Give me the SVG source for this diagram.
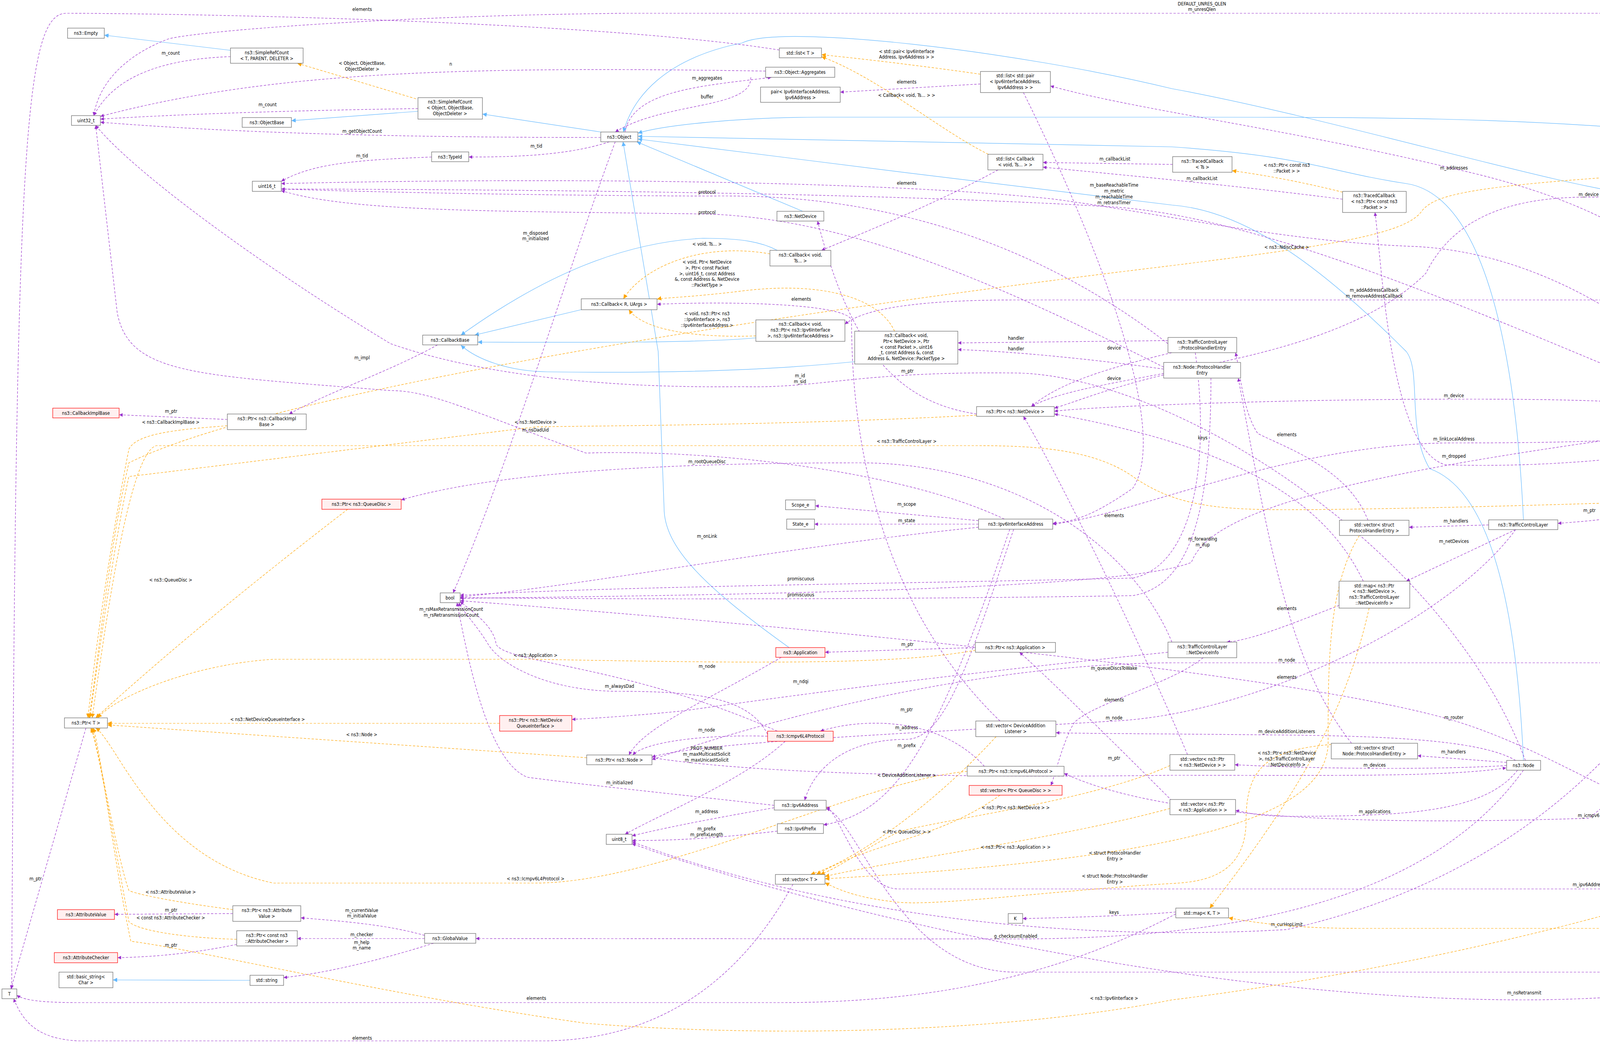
<svg xmlns="http://www.w3.org/2000/svg" width="5873" height="2673" viewBox="0 0 5873 2673">
<style>
text{font-family:"DejaVu Sans Condensed","DejaVu Sans","Liberation Sans",sans-serif;font-size:12px;fill:#000;text-anchor:middle}
.n rect{fill:#fff;stroke:#666;stroke-width:1.2}
.g rect{fill:#999;stroke:#666;stroke-width:1.2}
.r rect{fill:#fff0f0;stroke:#f00;stroke-width:1.2}
.u{fill:none;stroke:#9a32cd;stroke-width:1.2;stroke-dasharray:6,4;marker-end:url(#mu)}
.i{fill:none;stroke:#63b8ff;stroke-width:1.2;marker-end:url(#mi)}
.o{fill:none;stroke:#ffa500;stroke-width:1.2;stroke-dasharray:6,4;marker-end:url(#mo)}
</style>
<defs>
<marker id="mu" viewBox="0 0 10 10" refX="10" refY="5" markerWidth="9" markerHeight="9" orient="auto" markerUnits="userSpaceOnUse"><path d="M0,0L10,5L0,10z" fill="#9a32cd"/></marker>
<marker id="mi" viewBox="0 0 10 10" refX="10" refY="5" markerWidth="11" markerHeight="11" orient="auto" markerUnits="userSpaceOnUse"><path d="M0,0L10,5L0,10z" fill="#63b8ff"/></marker>
<marker id="mo" viewBox="0 0 10 10" refX="10" refY="5" markerWidth="11" markerHeight="11" orient="auto" markerUnits="userSpaceOnUse"><path d="M0,0L10,5L0,10z" fill="#ffa500"/></marker>
</defs>
<rect width="5873" height="2673" fill="#fff"/>
<g id="connectors">
<path class="i" d="M616,132L267,90"/>
<path class="i" d="M1070,285L746,309"/>
<path class="i" d="M1538,338L1235,292"/>
<path class="i" d="M2055,541L1630,363"/>
<path class="i" d="M2020,1658C1800,1500 1700,1400 1700,1300L1685,900L1595,363"/>
<path class="i" d="M5123,722C4900,520 4600,400 4300,340C3900,300 3500,300 3000,300L2100,300C1900,300 1700,320 1633,341"/>
<path class="i" d="M4530,1065C4500,800 4400,520 4200,500C4000,480 3400,300 3000,227C2600,130 2000,60 1900,110C1700,150 1620,250 1596,338"/>
<path class="i" d="M3900,1331C3880,900 3800,500 3600,470C3400,440 3350,400 3000,376L1633,349"/>
<path class="i" d="M3900,1947C3880,1500 3800,1250 3660,1200C3600,1100 3640,950 3600,900C3400,700 3200,540 3000,525C2800,500 1800,380 1633,356"/>
<path class="i" d="M1990,641C1950,620 1900,610 1800,610C1600,620 1400,700 1180,858"/>
<path class="i" d="M1500,790L1215,858"/>
<path class="i" d="M1935,865C1800,878 1500,877 1223,876"/>
<path class="i" d="M2188,926C1900,955 1600,955 1400,952C1300,950 1220,920 1180,884"/>
<path class="i" d="M640,2510L289,2509"/>

<path class="u" d="M590,145C450,150 300,180 240,296"/><text x="437" y="140">m_count</text>
<path class="u" d="M1070,278C800,282 500,290 257,305"/><text x="685" y="272">m_count</text>
<path class="u" d="M1538,352C1000,352 600,340 257,313"/><text x="927" y="340">m_getObjectCount</text>
<path class="u" d="M1560,363C1450,400 1300,402 1200,402"/><text x="1373" y="378">m_tid</text>
<path class="u" d="M1105,402C900,410 800,420 720,464"/><text x="927" y="403">m_tid</text>
<path class="u" d="M1960,182C1200,170 700,180 257,298"/><text x="1154" y="168">n</text>
<path class="u" d="M1600,338C1620,230 1800,220 1975,198"/><text x="1810" y="204">m_aggregates</text>
<path class="u" d="M1922,198C1925,280 1700,260 1575,338"/><text x="1810" y="252">buffer</text>
<path class="u" d="M1575,363C1450,700 1300,1200 1160,1518"/><text x="1371" y="601">m_disposed</text><text x="1371" y="615">m_initialized</text>
<path class="u" d="M1995,128C1500,50 400,34 170,34C60,34 40,400 30,2532"/><text x="927" y="28">elements</text>
<path class="u" d="M2510,215L2151,236"/><text x="2321" y="214">elements</text>
<path class="u" d="M3002,421L2670,416"/><text x="2854" y="411">m_callbackList</text>
<path class="u" d="M3437,510C3200,480 3000,460 2670,428"/><text x="3077" y="461">m_callbackList</text>
<path class="u" d="M2555,435C2400,520 2200,600 2103,641"/>
<path class="u" d="M4456,1072C4300,900 4000,650 3622,631C3300,620 3000,551 2700,510C2300,467 1500,452 720,470"/><text x="2321" y="473">elements</text>
<path class="u" d="M4480,1065C4450,800 4300,560 3722,432C3300,330 2900,280 2689,220"/><text x="3722" y="434">m_addresses</text>
<path class="u" d="M4456,1068C4300,1020 3900,1022 3722,1022C3300,1022 2800,1040 2699,1053"/><text x="3722" y="1017">m_device</text>
<path class="u" d="M4470,1091C4300,1130 4000,1134 3722,1134C3300,1134 2900,1320 2695,1342"/><text x="3722" y="1128">m_linkLocalAddress</text>
<path class="u" d="M4480,1091C4400,1160 4000,1200 3700,1190C3560,1150 3540,700 3520,544"/><text x="3722" y="1172">m_dropped</text>
<path class="u" d="M4520,1091C4500,1180 4420,1240 4347,1265"/><text x="4392" y="1233">m_tc</text>
<path class="u" d="M4500,1065C4700,700 4900,415 5100,415C5250,415 5340,420 5380,431"/><text x="4992" y="437">m_ndCache</text>
<path class="u" d="M4470,1065C4450,900 4300,768 4200,768L2600,768C2300,768 2200,800 2163,830"/><text x="3518" y="747">m_addAddressCallback</text><text x="3518" y="762">m_removeAddressCallback</text>
<path class="u" d="M4456,1076C4000,900 3300,560 2852,530C2200,490 1200,485 720,484"/><text x="2852" y="478">m_baseReachableTime</text><text x="2852" y="493">m_metric</text><text x="2852" y="508">m_reachableTime</text><text x="2852" y="523">m_retransTimer</text>
<path class="u" d="M4456,1082C3500,1200 3100,1300 3050,1440C2900,1500 2200,1520 1178,1532"/><text x="3079" y="1384">m_forwarding</text><text x="3079" y="1399">m_ifup</text>
<path class="u" d="M4530,1091C4500,1500 4400,1697 4200,1697L3000,1697C2400,1700 1800,1900 1669,1945"/><text x="3294" y="1694">m_node</text>
<path class="u" d="M4510,1091C4480,1500 4350,1880 4067,2095C3600,2110 3000,2110 2724,1980"/><text x="4067" y="2092">m_icmpv6</text>
<path class="u" d="M5386,2292C5200,2276 4900,2276 4600,2276L2300,2276C2200,2276 2150,2080 2115,2066"/><text x="4067" y="2269">m_ipv6Address</text>
<path class="u" d="M4520,1091C4450,1600 4100,2200 3294,2380C2600,2420 2000,2300 1618,2155"/><text x="3294" y="2371">m_curHopLimit</text>
<path class="u" d="M5420,2313C5000,2450 4400,2560 3902,2560C3000,2560 2000,2300 1618,2160"/><text x="3902" y="2546">m_nsRetransmit</text>
<path class="u" d="M5440,2287C5300,2110 5150,2107 4900,2107L4400,2107C4200,2100 4000,1930 3722,1845C3300,1720 2000,1600 1178,1538"/><text x="3722" y="1841">m_router</text>
<path class="u" d="M5720,2398C5600,2480 5400,2489 5200,2489L2600,2489C2300,2489 2200,2100 2115,2070"/><text x="4247" y="2482">keys</text>
<path class="u" d="M5386,2302L5238,2326"/><text x="5305" y="2304">m_state</text>
<path class="u" d="M5720,2359C5650,2340 5580,2325 5520,2313"/><text x="5634" y="2327">elements</text>
<path class="u" d="M5170,747L5760,2359"/><text x="5473" y="1307">m_ndCache</text>
<path class="u" d="M5470,2287C5400,1600 5200,1000 5150,747"/><text x="5305" y="1324">m_ndCache</text>
<path class="u" d="M5150,722C5100,300 5000,34 4830,34L1600,34C1000,40 500,80 430,100C300,150 250,230 240,296"/><text x="3077" y="14">DEFAULT_UNRES_QLEN</text><text x="3077" y="28">m_unresQlen</text>
<path class="u" d="M5110,722C4800,550 4300,500 4040,505C3800,510 3700,600 3650,700C3400,950 2800,950 2640,1041"/><text x="4067" y="502">m_device</text>
<path class="u" d="M5100,747C5060,1600 5040,2075 4880,2071"/><text x="4995" y="2033">m_interface</text>
<path class="u" d="M5450,456L5172,722"/><text x="5305" y="557">m_ptr</text>
<path class="u" d="M4810,2045L4532,1091"/><text x="4663" y="1474">m_ptr</text>
<path class="u" d="M4210,1304C4150,1330 4050,1335 3988,1340"/><text x="4069" y="1311">m_ptr</text>
<path class="u" d="M3811,1344L3607,1350"/><text x="3727" y="1338">m_handlers</text>
<path class="u" d="M3880,1356L3600,1488"/><text x="3722" y="1390">m_netDevices</text>
<path class="u" d="M3502,1332C3450,1200 3300,1150 3220,1110C3180,1050 3175,950 3163,903"/><text x="3294" y="1117">elements</text>
<path class="u" d="M3490,1488C3400,1300 3200,1150 2699,1060"/><text x="3079" y="1125">keys</text>
<path class="u" d="M3428,1550C3300,1600 3200,1640 3140,1644"/><text x="3294" y="1562">elements</text>
<path class="u" d="M3000,1644C2900,1400 2600,1185 2200,1185C1800,1185 1300,1200 1027,1280"/><text x="1810" y="1186">m_rootQueueDisc</text>
<path class="u" d="M2990,1670C2500,1720 2100,1770 1750,1820C1600,1835 1500,1840 1464,1842"/><text x="2050" y="1749">m_ndqi</text>
<path class="u" d="M3080,1684C3000,1750 2800,1800 2750,1850C2720,1900 2700,1990 2690,2011"/><text x="2852" y="1715">m_queueDiscsToWake</text>
<path class="u" d="M3857,1952L3629,1935"/><text x="3721" y="1929">m_handlers</text>
<path class="u" d="M3857,1960C3700,1970 3400,1970 3161,1958"/><text x="3519" y="1963">m_devices</text>
<path class="u" d="M1669,1940C2000,1990 2600,1990 3000,1985C3400,1985 3700,1990 3856,1966"/><text x="2852" y="1945">m_ptr</text>
<path class="u" d="M3885,1972C3800,2080 3600,2090 3300,2090C3220,2090 3190,2080 3163,2075"/><text x="3519" y="2082">m_applications</text>
<path class="u" d="M3880,1947C3800,1900 3600,1885 3294,1882C2900,1878 2760,1878 2703,1876"/><text x="3294" y="1877">m_deviceAdditionListeners</text>
<path class="u" d="M3880,1356C3700,1600 3200,1830 2852,1846C2300,1880 1800,1900 1669,1938"/><text x="2852" y="1842">m_node</text>
<path class="u" d="M3905,1947C3700,1400 3000,960 2600,955C2200,950 2100,995 1900,990C1500,995 1200,950 1000,880C700,700 350,450 245,321"/><text x="2048" y="966">m_id</text><text x="2048" y="981">m_sid</text>
<path class="u" d="M2990,880C2500,500 2000,500 1810,502C1300,500 900,490 720,484"/><text x="1810" y="496">protocol</text>
<path class="u" d="M2979,940C2600,750 2200,560 1810,548C1300,540 900,545 720,488"/><text x="1810" y="548">protocol</text>
<path class="u" d="M2990,872L2452,878"/><text x="2601" y="870">handler</text>
<path class="u" d="M2979,945C2800,920 2600,900 2452,895"/><text x="2601" y="897">handler</text>
<path class="u" d="M3000,903C2800,950 2700,990 2640,1041"/><text x="2852" y="895">device</text>
<path class="u" d="M2979,960C2850,990 2750,1030 2699,1045"/><text x="2852" y="973">device</text>
<path class="u" d="M3060,903C3100,1200 3050,1450 2900,1480C2300,1495 1600,1500 1178,1524"/><text x="2050" y="1486">promiscuous</text>
<path class="u" d="M3100,968C3100,1300 3050,1500 2900,1525C2300,1535 1600,1535 1178,1530"/><text x="2050" y="1527">promiscuous</text>
<path class="u" d="M2500,1060C2300,1030 2180,900 2093,566"/><text x="2323" y="954">m_ptr</text>
<path class="u" d="M2505,1333L2087,1295"/><text x="2321" y="1295">m_scope</text>
<path class="u" d="M2505,1342L2085,1342"/><text x="2321" y="1337">m_state</text>
<path class="u" d="M2505,1350C2000,1400 1500,1500 1178,1528"/><text x="1810" y="1377">m_onLink</text>
<path class="u" d="M2571,1329C2300,1200 1800,1150 1500,1160C1200,1050 1100,1000 1000,1000C500,960 330,960 300,800L245,321"/><text x="1371" y="1105">m_nsDadUid</text>
<path class="u" d="M2595,1355C2480,1700 2420,1890 2321,1893C2150,1893 2080,1980 2060,2049"/><text x="2321" y="1867">m_address</text>
<path class="u" d="M2585,1355C2400,1900 2300,2080 2108,2112"/><text x="2321" y="1913">m_prefix</text>
<path class="u" d="M1982,2062C1700,2030 1500,2010 1350,1990C1250,1950 1200,1700 1170,1543"/><text x="1586" y="2008">m_initialized</text>
<path class="u" d="M1965,1880C1920,1790 1800,1770 1586,1770C1400,1770 1280,1700 1250,1650C1220,1600 1180,1560 1175,1543"/><text x="1586" y="1761">m_alwaysDad</text>
<path class="u" d="M1990,1872C1600,1700 1300,1700 1270,1650C1265,1600 1200,1560 1178,1540"/><text x="1155" y="1564">m_rsMaxRetransmissionCount</text><text x="1155" y="1579">m_rsRetransmissionCount</text>
<path class="u" d="M1965,1885C1800,1880 1650,1900 1620,1933"/><text x="1809" y="1873">m_node</text>
<path class="u" d="M2000,1683C1800,1800 1650,1860 1610,1933"/><text x="1810" y="1710">m_node</text>
<path class="u" d="M2010,1898C1900,2000 1700,2080 1600,2136"/><text x="1809" y="1920">PROT_NUMBER</text><text x="1809" y="1935">m_maxMulticastSolicit</text><text x="1809" y="1950">m_maxUnicastSolicit</text>
<path class="u" d="M2520,1962C2400,1830 2200,1840 2100,1872"/><text x="2321" y="1821">m_ptr</text>
<path class="u" d="M1982,2068C1800,2100 1700,2120 1618,2140"/><text x="1809" y="2082">m_address</text>
<path class="u" d="M1990,2128C1800,2150 1700,2152 1618,2152"/><text x="1809" y="2126">m_prefix</text><text x="1809" y="2141">m_prefixLength</text>
<path class="u" d="M2497,1658L2112,1670"/><text x="2323" y="1654">m_ptr</text>
<path class="u" d="M3000,2050C2900,1950 2700,1750 2610,1670"/><text x="2852" y="1796">elements</text>
<path class="u" d="M3040,1932C2900,1600 2700,1200 2620,1066"/><text x="3294" y="1738">elements</text>
<path class="u" d="M3460,1903C3300,1700 3250,1400 3170,968"/>
<path class="u" d="M2620,237C2800,600 3000,1100 2900,1250C2800,1320 2750,1335 2695,1340"/><text x="2852" y="1324">elements</text>
<path class="u" d="M2560,1846C2200,1500 2180,1000 2180,820C2170,780 1900,770 1682,779"/><text x="2051" y="770">elements</text>
<path class="u" d="M2030,2264C1900,2500 1700,2660 1400,2665L200,2665C100,2660 60,2620 35,2557"/><text x="927" y="2662">elements</text>
<path class="u" d="M3010,2340C2800,2450 2500,2567 2000,2567L200,2567C100,2567 60,2560 43,2548"/><text x="1373" y="2560">elements</text>
<path class="u" d="M3010,2335C2900,2345 2700,2350 2618,2352"/><text x="2852" y="2340">keys</text>
<path class="u" d="M220,1864L28,2532"/><text x="91" y="2254">m_ptr</text>
<path class="u" d="M1087,2395C1000,2370 900,2360 770,2350"/><text x="926" y="2335">m_currentValue</text><text x="926" y="2349">m_initialValue</text>
<path class="u" d="M1087,2403L761,2403"/><text x="926" y="2397">m_checker</text>
<path class="u" d="M1110,2415C1000,2450 850,2490 726,2503"/><text x="926" y="2417">m_help</text><text x="926" y="2431">m_name</text>
<path class="u" d="M3900,1972C3700,2250 3300,2404 2600,2404L1218,2403"/><text x="2600" y="2401">g_checksumEnabled</text>
<path class="u" d="M596,2339L293,2341"/><text x="438" y="2334">m_ptr</text>
<path class="u" d="M606,2418C500,2440 400,2450 301,2452"/><text x="438" y="2424">m_ptr</text>
<path class="u" d="M1120,883C1000,950 850,1000 740,1060"/><text x="927" y="920">m_impl</text>
<path class="u" d="M582,1074L305,1062"/><text x="438" y="1057">m_ptr</text>

<path class="o" d="M1065,253L761,162"/><text x="927" y="166">&lt; Object, ObjectBase,</text><text x="927" y="181">ObjectDeleter &gt;</text>
<path class="o" d="M2510,190C2300,160 2150,145 2103,140"/><text x="2321" y="136">&lt; std::pair&lt; Ipv6Interface</text><text x="2321" y="150">Address, Ipv6Address &gt; &gt;</text>
<path class="o" d="M2530,395C2400,330 2250,200 2103,145"/><text x="2321" y="248">&lt; Callback&lt; void, Ts... &gt; &gt;</text>
<path class="o" d="M3437,492C3350,470 3250,450 3154,437"/><text x="3294" y="427">&lt; ns3::Ptr&lt; const ns3</text><text x="3294" y="442">::Packet &gt; &gt;</text>
<path class="o" d="M1971,650C1800,620 1650,680 1596,765"/><text x="1810" y="629">&lt; void, Ts... &gt;</text>
<path class="o" d="M2290,848C2250,760 2100,720 1900,745C1760,762 1700,762 1682,766"/><text x="1810" y="675">&lt; void, Ptr&lt; NetDevice</text><text x="1810" y="690">&gt;, Ptr&lt; const Packet</text><text x="1810" y="705">&gt;, uint16_t, const Address</text><text x="1810" y="719">&amp;, const Address &amp;, NetDevice</text><text x="1810" y="734">::PacketType &gt;</text>
<path class="o" d="M1935,860C1800,865 1650,850 1610,793"/><text x="1810" y="807">&lt; void, ns3::Ptr&lt; ns3</text><text x="1810" y="822">::Ipv6Interface &gt;, ns3</text><text x="1810" y="837">::Ipv6InterfaceAddress &gt;</text>
<path class="o" d="M582,1090C450,1100 350,1110 330,1150C280,1400 240,1700 225,1838"/><text x="437" y="1085">&lt; ns3::CallbackImplBase &gt;</text>
<path class="o" d="M890,1304C700,1450 450,1650 245,1838"/><text x="437" y="1489">&lt; ns3::QueueDisc &gt;</text>
<path class="o" d="M2500,1063C2000,1090 1500,1090 1371,1093C900,1150 500,1200 330,1220C290,1400 250,1700 230,1838"/><text x="1371" y="1085">&lt; ns3::NetDevice &gt;</text>
<path class="o" d="M4143,1287C3900,1295 3500,1305 3287,1305C3100,1305 3000,1290 2900,1220C2800,1150 2650,1141 2500,1141L400,1141C330,1160 270,1600 236,1838"/><text x="2321" y="1134">&lt; ns3::TrafficControlLayer &gt;</text>
<path class="o" d="M2497,1665C2300,1700 2000,1700 1371,1688L700,1688C500,1700 300,1780 250,1838"/><text x="1371" y="1682">&lt; ns3::Application &gt;</text>
<path class="o" d="M1279,1852L275,1852"/><text x="685" y="1846">&lt; ns3::NetDeviceQueueInterface &gt;</text>
<path class="o" d="M1502,1940L275,1856"/><text x="926" y="1885">&lt; ns3::Node &gt;</text>
<path class="o" d="M2476,1975C2200,2000 1700,2260 1371,2261L700,2261C400,2200 300,1900 245,1864"/><text x="1371" y="2254">&lt; ns3::Icmpv6L4Protocol &gt;</text>
<path class="o" d="M596,2329C450,2310 350,2290 330,2280C300,2200 250,1900 235,1864"/><text x="437" y="2288">&lt; ns3::AttributeValue &gt;</text>
<path class="o" d="M606,2405C450,2400 350,2380 330,2360C300,2200 250,1900 232,1864"/><text x="437" y="2354">&lt; const ns3::AttributeChecker &gt;</text>
<path class="o" d="M4770,2070C4500,2300 3500,2500 3000,2560C2600,2640 2000,2660 1500,2620C1000,2550 500,2430 335,2410C290,2200 255,1900 238,1864"/><text x="2852" y="2560">&lt; ns3::Ipv6Interface &gt;</text>
<path class="o" d="M5420,431C5300,400 5000,395 4500,430C3800,470 3680,490 3640,540C3600,600 3400,630 3000,680C2000,800 700,1000 330,1185C280,1400 250,1700 228,1838"/><text x="3294" y="637">&lt; ns3::NdiscCache &gt;</text>
<path class="o" d="M2550,1886C2400,2050 2200,2200 2075,2239"/><text x="2321" y="1989">&lt; DeviceAdditionListener &gt;</text>
<path class="o" d="M2560,2036C2400,2150 2250,2150 2090,2239"/><text x="2321" y="2134">&lt; Ptr&lt; QueueDisc &gt; &gt;</text>
<path class="o" d="M2995,1960C2800,2050 2400,2100 2300,2130C2200,2180 2150,2220 2100,2239"/><text x="2600" y="2072">&lt; ns3::Ptr&lt; ns3::NetDevice &gt; &gt;</text>
<path class="o" d="M2995,2070C2700,2150 2300,2200 2112,2244"/><text x="2600" y="2173">&lt; ns3::Ptr&lt; ns3::Application &gt; &gt;</text>
<path class="o" d="M3480,1371C3400,1500 3400,1700 3400,1900C3400,2100 3000,2200 2112,2250"/><text x="2854" y="2188">&lt; struct ProtocolHandler</text><text x="2854" y="2203">Entry &gt;</text>
<path class="o" d="M3408,1906C3250,1920 3190,1960 3190,2100C3190,2230 3100,2258 3000,2262C2700,2280 2400,2320 2300,2310C2200,2300 2150,2280 2112,2260"/><text x="2854" y="2247">&lt; struct Node::ProtocolHandler</text><text x="2854" y="2262">Entry &gt;</text>
<path class="o" d="M3505,1557C3450,1800 3350,2000 3097,2325"/><text x="3294" y="1932">&lt; ns3::Ptr&lt; ns3::NetDevice</text><text x="3294" y="1947">&gt;, ns3::TrafficControlLayer</text><text x="3294" y="1962">::NetDeviceInfo &gt;</text>
<path class="o" d="M5689,2398C5550,2430 5300,2427 5000,2427C4800,2427 4600,2377 4400,2377L3480,2377C3300,2377 3200,2360 3145,2350"/><text x="4527" y="2356">&lt; Ipv6Address, NdiscCache</text><text x="4527" y="2371">::Entry * &gt;</text>
</g>

<g id="Empty" class="n"><rect x="173" y="72" width="94" height="26"/><text x="220" y="89">ns3::Empty</text></g>
<g id="SRC_T" class="n"><rect x="590" y="123" width="186" height="39"/><text x="683" y="139">ns3::SimpleRefCount</text><text x="683" y="154">&lt; T, PARENT, DELETER &gt;</text></g>
<g id="uint32" class="n"><rect x="183" y="296" width="74" height="25"/><text x="220" y="313">uint32_t</text></g>
<g id="ObjectBase" class="n"><rect x="620" y="301" width="126" height="25"/><text x="683" y="318">ns3::ObjectBase</text></g>
<g id="SRC_O" class="n"><rect x="1070" y="250" width="165" height="55"/><text x="1152" y="265">ns3::SimpleRefCount</text><text x="1152" y="280">&lt; Object, ObjectBase,</text><text x="1152" y="295">ObjectDeleter &gt;</text></g>
<g id="TypeId" class="n"><rect x="1105" y="389" width="95" height="25"/><text x="1152" y="406">ns3::TypeId</text></g>
<g id="uint16" class="n"><rect x="646" y="464" width="74" height="26"/><text x="683" y="481">uint16_t</text></g>
<g id="CallbackBase" class="n"><rect x="1082" y="858" width="141" height="25"/><text x="1152" y="875">ns3::CallbackBase</text></g>
<g id="listT" class="n"><rect x="1995" y="123" width="108" height="25"/><text x="2049" y="140">std::list&lt; T &gt;</text></g>
<g id="Aggregates" class="n"><rect x="1960" y="172" width="177" height="26"/><text x="2048" y="189">ns3::Object::Aggregates</text></g>
<g id="pair" class="n"><rect x="1947" y="223" width="204" height="39"/><text x="2049" y="239">pair&lt; Ipv6InterfaceAddress,</text><text x="2049" y="254">Ipv6Address &gt;</text></g>
<g id="listPair" class="n"><rect x="2510" y="183" width="179" height="54"/><text x="2599" y="198">std::list&lt; std::pair</text><text x="2599" y="213">&lt; Ipv6InterfaceAddress,</text><text x="2599" y="228">Ipv6Address &gt; &gt;</text></g>
<g id="Object" class="n"><rect x="1538" y="338" width="95" height="25"/><text x="1585" y="355">ns3::Object</text></g>
<g id="listCb" class="n"><rect x="2529" y="395" width="141" height="40"/><text x="2599" y="411">std::list&lt; Callback</text><text x="2599" y="426">&lt; void, Ts... &gt; &gt;</text></g>
<g id="NetDevice" class="n"><rect x="1989" y="541" width="120" height="25"/><text x="2049" y="558">ns3::NetDevice</text></g>
<g id="CbVoid" class="n"><rect x="1971" y="641" width="156" height="40"/><text x="2049" y="657">ns3::Callback&lt; void,</text><text x="2049" y="672">Ts... &gt;</text></g>
<g id="CbRU" class="n"><rect x="1488" y="765" width="194" height="28"/><text x="1585" y="783">ns3::Callback&lt; R, UArgs &gt;</text></g>
<g id="CbIface" class="n"><rect x="1935" y="819" width="228" height="55"/><text x="2049" y="834">ns3::Callback&lt; void,</text><text x="2049" y="849">ns3::Ptr&lt; ns3::Ipv6Interface</text><text x="2049" y="864">&gt;, ns3::Ipv6InterfaceAddress &gt;</text></g>
<g id="CbNd" class="n"><rect x="2188" y="848" width="264" height="84"/><text x="2320" y="863">ns3::Callback&lt; void,</text><text x="2320" y="878">Ptr&lt; NetDevice &gt;, Ptr</text><text x="2320" y="893">&lt; const Packet &gt;, uint16</text><text x="2320" y="907">_t, const Address &amp;, const</text><text x="2320" y="922">Address &amp;, NetDevice::PacketType &gt;</text></g>
<g id="TcTs" class="n"><rect x="3002" y="401" width="152" height="40"/><text x="3078" y="417">ns3::TracedCallback</text><text x="3078" y="432">&lt; Ts &gt;</text></g>
<g id="TcPkt" class="n"><rect x="3437" y="490" width="163" height="54"/><text x="3518" y="505">ns3::TracedCallback</text><text x="3518" y="520">&lt; ns3::Ptr&lt; const ns3</text><text x="3518" y="535">::Packet &gt; &gt;</text></g>
<g id="TclPhe" class="n"><rect x="2990" y="864" width="176" height="39"/><text x="3078" y="880">ns3::TrafficControlLayer</text><text x="3078" y="895">::ProtocolHandlerEntry</text></g>
<g id="NodePhe" class="n"><rect x="2979" y="928" width="197" height="40"/><text x="3077" y="944">ns3::Node::ProtocolHandler</text><text x="3077" y="959">Entry</text></g>
<g id="PtrNdisc" class="n"><rect x="5368" y="431" width="207" height="25"/><text x="5471" y="448">ns3::Ptr&lt; ns3::NdiscCache &gt;</text></g>
<g id="NdiscCache" class="n"><rect x="5083" y="722" width="129" height="25"/><text x="5147" y="739">ns3::NdiscCache</text></g>
<g id="Ipv6Interface" class="g"><rect x="4456" y="1065" width="138" height="26"/><text x="4525" y="1082">ns3::Ipv6Interface</text></g>
<g id="CallbackImplBase" class="r"><rect x="135" y="1045" width="170" height="25"/><text x="220" y="1062">ns3::CallbackImplBase</text></g>
<g id="PtrCIB" class="n"><rect x="582" y="1060" width="202" height="40"/><text x="683" y="1076">ns3::Ptr&lt; ns3::CallbackImpl</text><text x="683" y="1091">Base &gt;</text></g>
<g id="PtrQD" class="r"><rect x="824" y="1278" width="203" height="26"/><text x="925" y="1295">ns3::Ptr&lt; ns3::QueueDisc &gt;</text></g>
<g id="bool" class="n"><rect x="1127" y="1518" width="51" height="25"/><text x="1152" y="1535">bool</text></g>
<g id="PtrND" class="n"><rect x="2500" y="1041" width="199" height="25"/><text x="2599" y="1058">ns3::Ptr&lt; ns3::NetDevice &gt;</text></g>
<g id="Scope" class="n"><rect x="2011" y="1280" width="76" height="25"/><text x="2049" y="1297">Scope_e</text></g>
<g id="State" class="n"><rect x="2014" y="1329" width="71" height="26"/><text x="2049" y="1346">State_e</text></g>
<g id="IfAddr" class="n"><rect x="2505" y="1329" width="190" height="26"/><text x="2600" y="1346">ns3::Ipv6InterfaceAddress</text></g>
<g id="App" class="r"><rect x="1986" y="1658" width="126" height="25"/><text x="2049" y="1675">ns3::Application</text></g>
<g id="PtrApp" class="n"><rect x="2497" y="1645" width="205" height="25"/><text x="2599" y="1662">ns3::Ptr&lt; ns3::Application &gt;</text></g>
<g id="NDInfo" class="n"><rect x="2990" y="1644" width="176" height="40"/><text x="3078" y="1660">ns3::TrafficControlLayer</text><text x="3078" y="1675">::NetDeviceInfo</text></g>
<g id="PtrTCL" class="n"><rect x="4143" y="1263" width="204" height="41"/><text x="4245" y="1279">ns3::Ptr&lt; ns3::TrafficControl</text><text x="4245" y="1294">Layer &gt;</text></g>
<g id="TCL" class="n"><rect x="3811" y="1331" width="177" height="25"/><text x="3899" y="1348">ns3::TrafficControlLayer</text></g>
<g id="vecPHE" class="n"><rect x="3429" y="1332" width="178" height="39"/><text x="3518" y="1348">std::vector&lt; struct</text><text x="3518" y="1363">ProtocolHandlerEntry &gt;</text></g>
<g id="mapND" class="n"><rect x="3428" y="1488" width="181" height="69"/><text x="3518" y="1504">std::map&lt; ns3::Ptr</text><text x="3518" y="1518">&lt; ns3::NetDevice &gt;,</text><text x="3518" y="1533">ns3::TrafficControlLayer</text><text x="3518" y="1548">::NetDeviceInfo &gt;</text></g>
<g id="PtrT" class="n"><rect x="165" y="1838" width="110" height="26"/><text x="220" y="1855">ns3::Ptr&lt; T &gt;</text></g>
<g id="PtrNDQI" class="r"><rect x="1279" y="1832" width="185" height="40"/><text x="1371" y="1848">ns3::Ptr&lt; ns3::NetDevice</text><text x="1371" y="1863">QueueInterface &gt;</text></g>
<g id="AttrVal" class="r"><rect x="147" y="2329" width="146" height="25"/><text x="220" y="2346">ns3::AttributeValue</text></g>
<g id="PtrAV" class="n"><rect x="596" y="2319" width="174" height="40"/><text x="683" y="2335">ns3::Ptr&lt; ns3::Attribute</text><text x="683" y="2350">Value &gt;</text></g>
<g id="PtrAC" class="n"><rect x="606" y="2383" width="155" height="39"/><text x="683" y="2399">ns3::Ptr&lt; const ns3</text><text x="683" y="2414">::AttributeChecker &gt;</text></g>
<g id="GlobalValue" class="n"><rect x="1087" y="2390" width="131" height="25"/><text x="1152" y="2407">ns3::GlobalValue</text></g>
<g id="AttrChk" class="r"><rect x="139" y="2439" width="162" height="26"/><text x="220" y="2456">ns3::AttributeChecker</text></g>
<g id="basicString" class="n"><rect x="151" y="2489" width="138" height="40"/><text x="220" y="2505">std::basic_string&lt;</text><text x="220" y="2520">Char &gt;</text></g>
<g id="string" class="n"><rect x="640" y="2497" width="86" height="26"/><text x="683" y="2514">std::string</text></g>
<g id="T" class="n"><rect x="5" y="2532" width="38" height="25"/><text x="24" y="2549">T</text></g>
<g id="Icmpv6" class="r"><rect x="1965" y="1872" width="168" height="26"/><text x="2049" y="1889">ns3::Icmpv6L4Protocol</text></g>
<g id="PtrNode" class="n"><rect x="1502" y="1933" width="167" height="25"/><text x="1585" y="1950">ns3::Ptr&lt; ns3::Node &gt;</text></g>
<g id="vecDAL" class="n"><rect x="2498" y="1846" width="205" height="40"/><text x="2600" y="1862">std::vector&lt; DeviceAddition</text><text x="2600" y="1877">Listener &gt;</text></g>
<g id="PtrIcmp" class="n"><rect x="2476" y="1962" width="248" height="25"/><text x="2600" y="1979">ns3::Ptr&lt; ns3::Icmpv6L4Protocol &gt;</text></g>
<g id="vecQD" class="r"><rect x="2481" y="2011" width="238" height="25"/><text x="2600" y="2028">std::vector&lt; Ptr&lt; QueueDisc &gt; &gt;</text></g>
<g id="Ipv6Addr" class="n"><rect x="1982" y="2049" width="133" height="25"/><text x="2048" y="2066">ns3::Ipv6Address</text></g>
<g id="Ipv6Prefix" class="n"><rect x="1990" y="2109" width="118" height="25"/><text x="2049" y="2126">ns3::Ipv6Prefix</text></g>
<g id="uint8" class="n"><rect x="1552" y="2136" width="66" height="26"/><text x="1585" y="2153">uint8_t</text></g>
<g id="vecT" class="n"><rect x="1985" y="2239" width="127" height="25"/><text x="2048" y="2256">std::vector&lt; T &gt;</text></g>
<g id="K" class="n"><rect x="2581" y="2339" width="37" height="25"/><text x="2599" y="2356">K</text></g>
<g id="vecNodePHE" class="n"><rect x="3408" y="1903" width="221" height="40"/><text x="3518" y="1919">std::vector&lt; struct</text><text x="3518" y="1934">Node::ProtocolHandlerEntry &gt;</text></g>
<g id="Node" class="n"><rect x="3857" y="1947" width="87" height="25"/><text x="3900" y="1964">ns3::Node</text></g>
<g id="vecPtrND" class="n"><rect x="2995" y="1932" width="166" height="40"/><text x="3078" y="1948">std::vector&lt; ns3::Ptr</text><text x="3078" y="1963">&lt; ns3::NetDevice &gt; &gt;</text></g>
<g id="vecPtrApp" class="n"><rect x="2995" y="2047" width="168" height="39"/><text x="3079" y="2063">std::vector&lt; ns3::Ptr</text><text x="3079" y="2078">&lt; ns3::Application &gt; &gt;</text></g>
<g id="mapKT" class="n"><rect x="3010" y="2325" width="135" height="25"/><text x="3077" y="2342">std::map&lt; K, T &gt;</text></g>
<g id="PtrIface" class="n"><rect x="4708" y="2045" width="218" height="25"/><text x="4817" y="2062">ns3::Ptr&lt; ns3::Ipv6Interface &gt;</text></g>
<g id="Entry" class="r"><rect x="5386" y="2287" width="171" height="26"/><text x="5471" y="2304">ns3::NdiscCache::Entry</text></g>
<g id="EntryState" class="n"><rect x="5057" y="2314" width="181" height="25"/><text x="5147" y="2331">NdiscCacheEntryState_e</text></g>
<g id="mapEntry" class="n"><rect x="5689" y="2359" width="178" height="39"/><text x="5778" y="2375">std::map&lt; Ipv6Address,</text><text x="5778" y="2390">NdiscCache::Entry * &gt;</text></g>
</svg>
